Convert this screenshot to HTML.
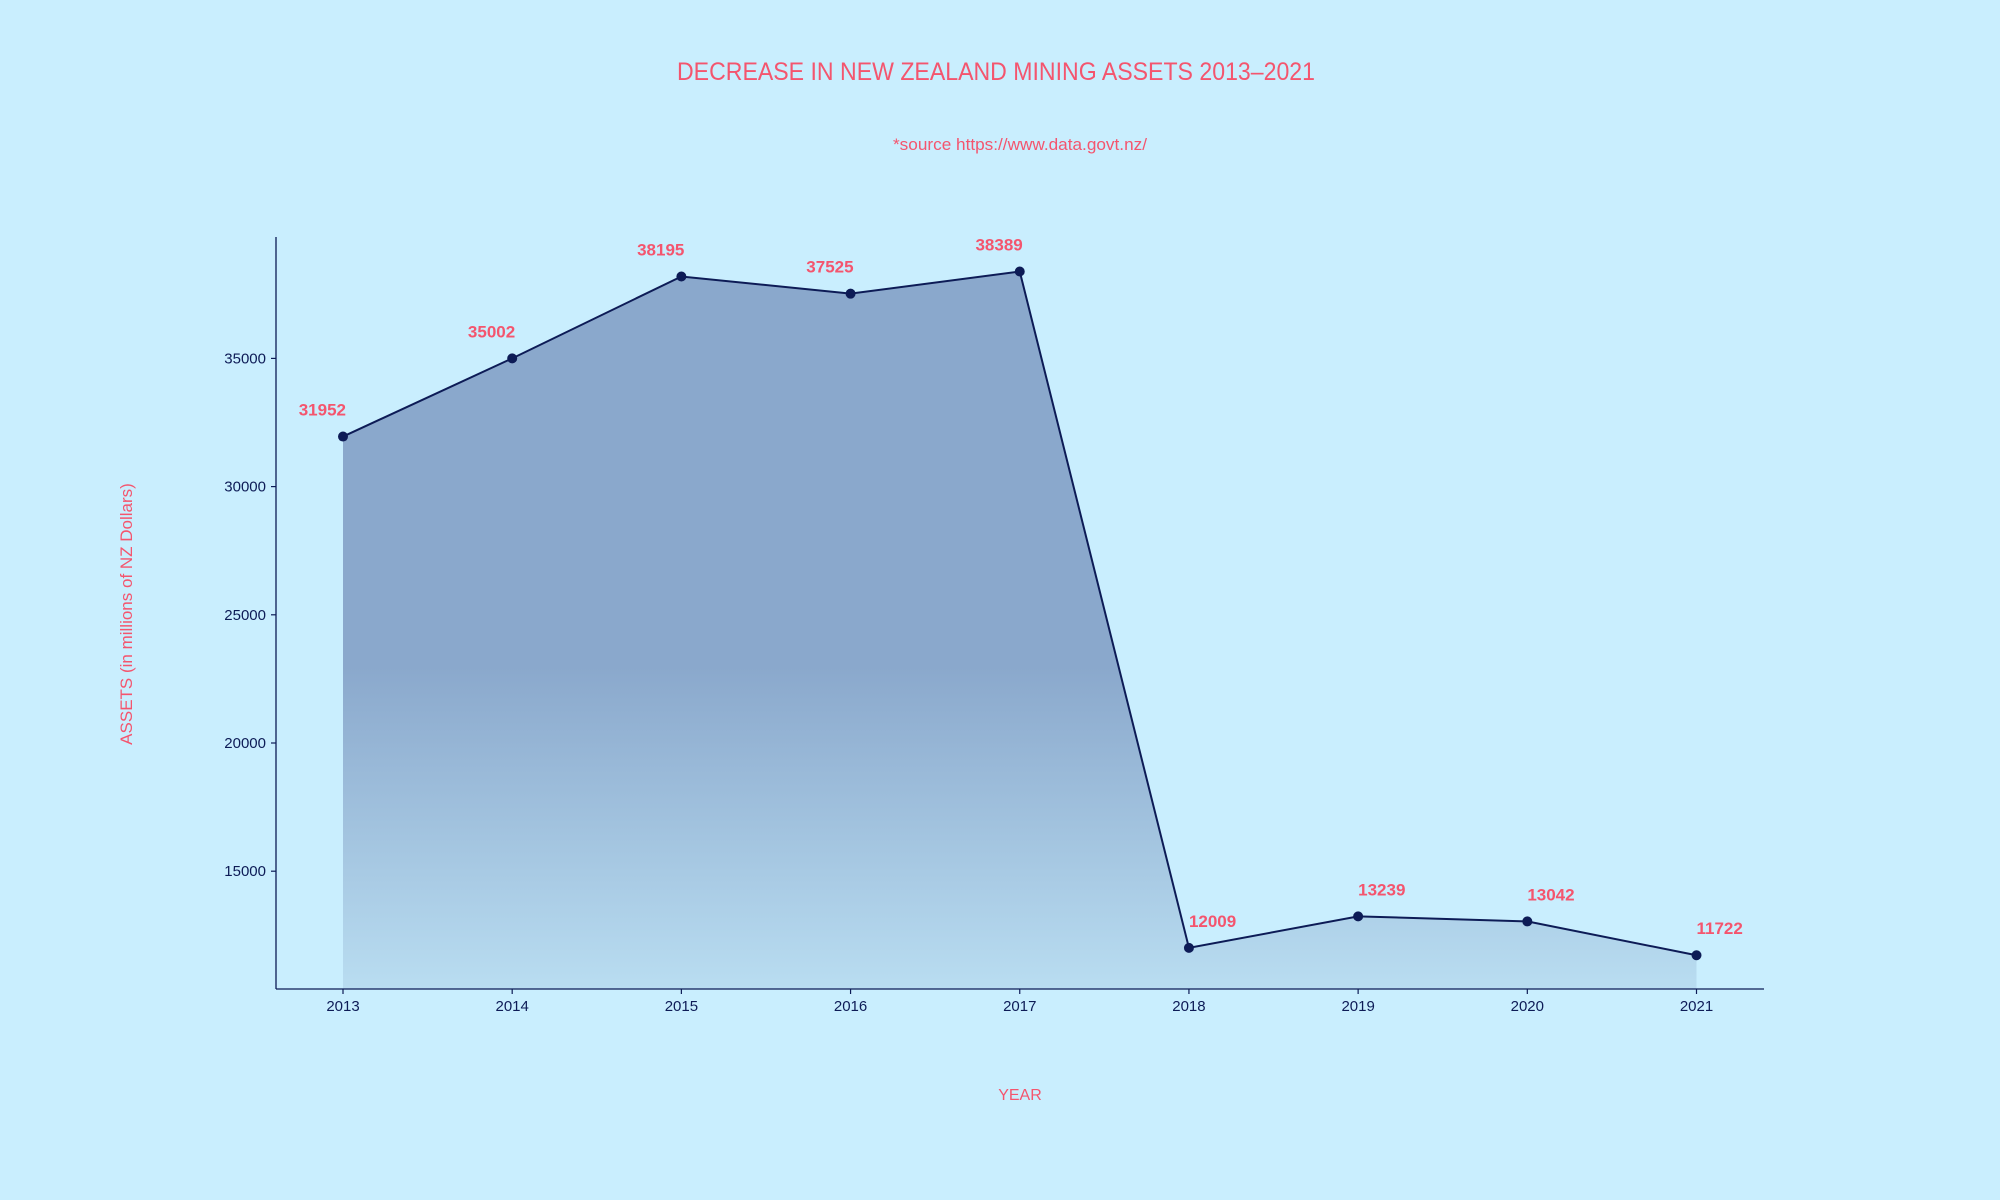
<!DOCTYPE html>
<html><head><meta charset="utf-8"><style>
html,body{margin:0;padding:0;background:#c9eefe;}
svg{display:block;font-family:"Liberation Sans",sans-serif;}
</style></head><body>
<svg id="chart" width="2000" height="1200" viewBox="0 0 2000 1200" xmlns="http://www.w3.org/2000/svg">
<defs>
<linearGradient id="fillGrad" x1="0" y1="0" x2="0" y2="1" gradientUnits="objectBoundingBox">
<stop offset="0" stop-color="#8aa8cc"/>
<stop offset="0.55" stop-color="#8aa8cc"/>
<stop offset="1" stop-color="#b9ddf1"/>
</linearGradient>
</defs>
<rect x="0" y="0" width="2000" height="1200" fill="#c9eefe"/>
<text x="677" y="80" textLength="638" lengthAdjust="spacingAndGlyphs" font-size="25" fill="#f4556e">DECREASE IN NEW ZEALAND MINING ASSETS 2013–2021</text>
<text x="893" y="150" textLength="254" lengthAdjust="spacingAndGlyphs" font-size="17" fill="#f4556e">*source https://www.data.govt.nz/</text>
<text transform="translate(132,614) rotate(-90)" text-anchor="middle" font-size="17" fill="#f4556e">ASSETS (in millions of NZ Dollars)</text>
<text x="1020" y="1100" text-anchor="middle" font-size="16" fill="#f4556e">YEAR</text>
<g id="plot"></g>
</svg>
<script>
const years = ["2013","2014","2015","2016","2017","2018","2019","2020","2021"];
const assets = [31952,35002,38195,37525,38389,12009,13239,13042,11722];
const yTicks = [15000,20000,25000,30000,35000];
const ns="http://www.w3.org/2000/svg";
const plot=document.getElementById('plot');
const axL=276,axR=1764,axT=237,axB=989;
function xPos(i){return 343+i*(1696.5-343)/(years.length-1);}
function yPos(v){return 871.2-(v-15000)*(871.2-358.4)/20000;}
function mk(tag,attrs){const e=document.createElementNS(ns,tag);for(const k in attrs)e.setAttribute(k,attrs[k]);plot.appendChild(e);return e;}
let d='M'+xPos(0)+','+axB;
assets.forEach((v,i)=>{d+=' L'+xPos(i)+','+yPos(v);});
d+=' L'+xPos(assets.length-1)+','+axB+' Z';
const area=mk('path',{d:d,fill:'url(#fillGrad)'});


const line=mk('polyline',{points:assets.map((v,i)=>xPos(i)+','+yPos(v)).join(' '),fill:'none',stroke:'#0d1b56','stroke-width':2});


const ya=mk('line',{x1:axL,y1:axT,x2:axL,y2:axB,stroke:'#0d1b56','stroke-width':1.3});


const xa=mk('line',{x1:axL,y1:axB,x2:axR,y2:axB,stroke:'#0d1b56','stroke-width':1.3});


yTicks.forEach(t=>{
  const y=yPos(t);
  const tk=mk('line',{x1:axL-5,y1:y,x2:axL,y2:y,stroke:'#0d1b56','stroke-width':1.2});
  
  
  const lb=mk('text',{x:axL-10,y:y+5,'text-anchor':'end','font-size':15,fill:'#0d1b56'});
  lb.textContent=t;
  
  
});
years.forEach((yr,i)=>{
  const x=xPos(i);
  const tk=mk('line',{x1:x,y1:axB,x2:x,y2:axB+5,stroke:'#0d1b56','stroke-width':1.2});
  
  
  const lb=mk('text',{x:x,y:axB+22,'text-anchor':'middle','font-size':15,fill:'#0d1b56'});
  lb.textContent=yr;
  
  
});
assets.forEach((v,i)=>{
  const x=xPos(i),y=yPos(v);
  const c=mk('circle',{cx:x,cy:y,r:5,fill:'#0d1b56'});
  
  
  const left=v>20000;
  const lb=mk('text',{x:left?x+3:x,y:y-21,'text-anchor':left?'end':'start','font-size':17,'font-weight':'bold',fill:'#f4556e'});
  lb.textContent=v;
  
  
});
</script>
</body></html>
